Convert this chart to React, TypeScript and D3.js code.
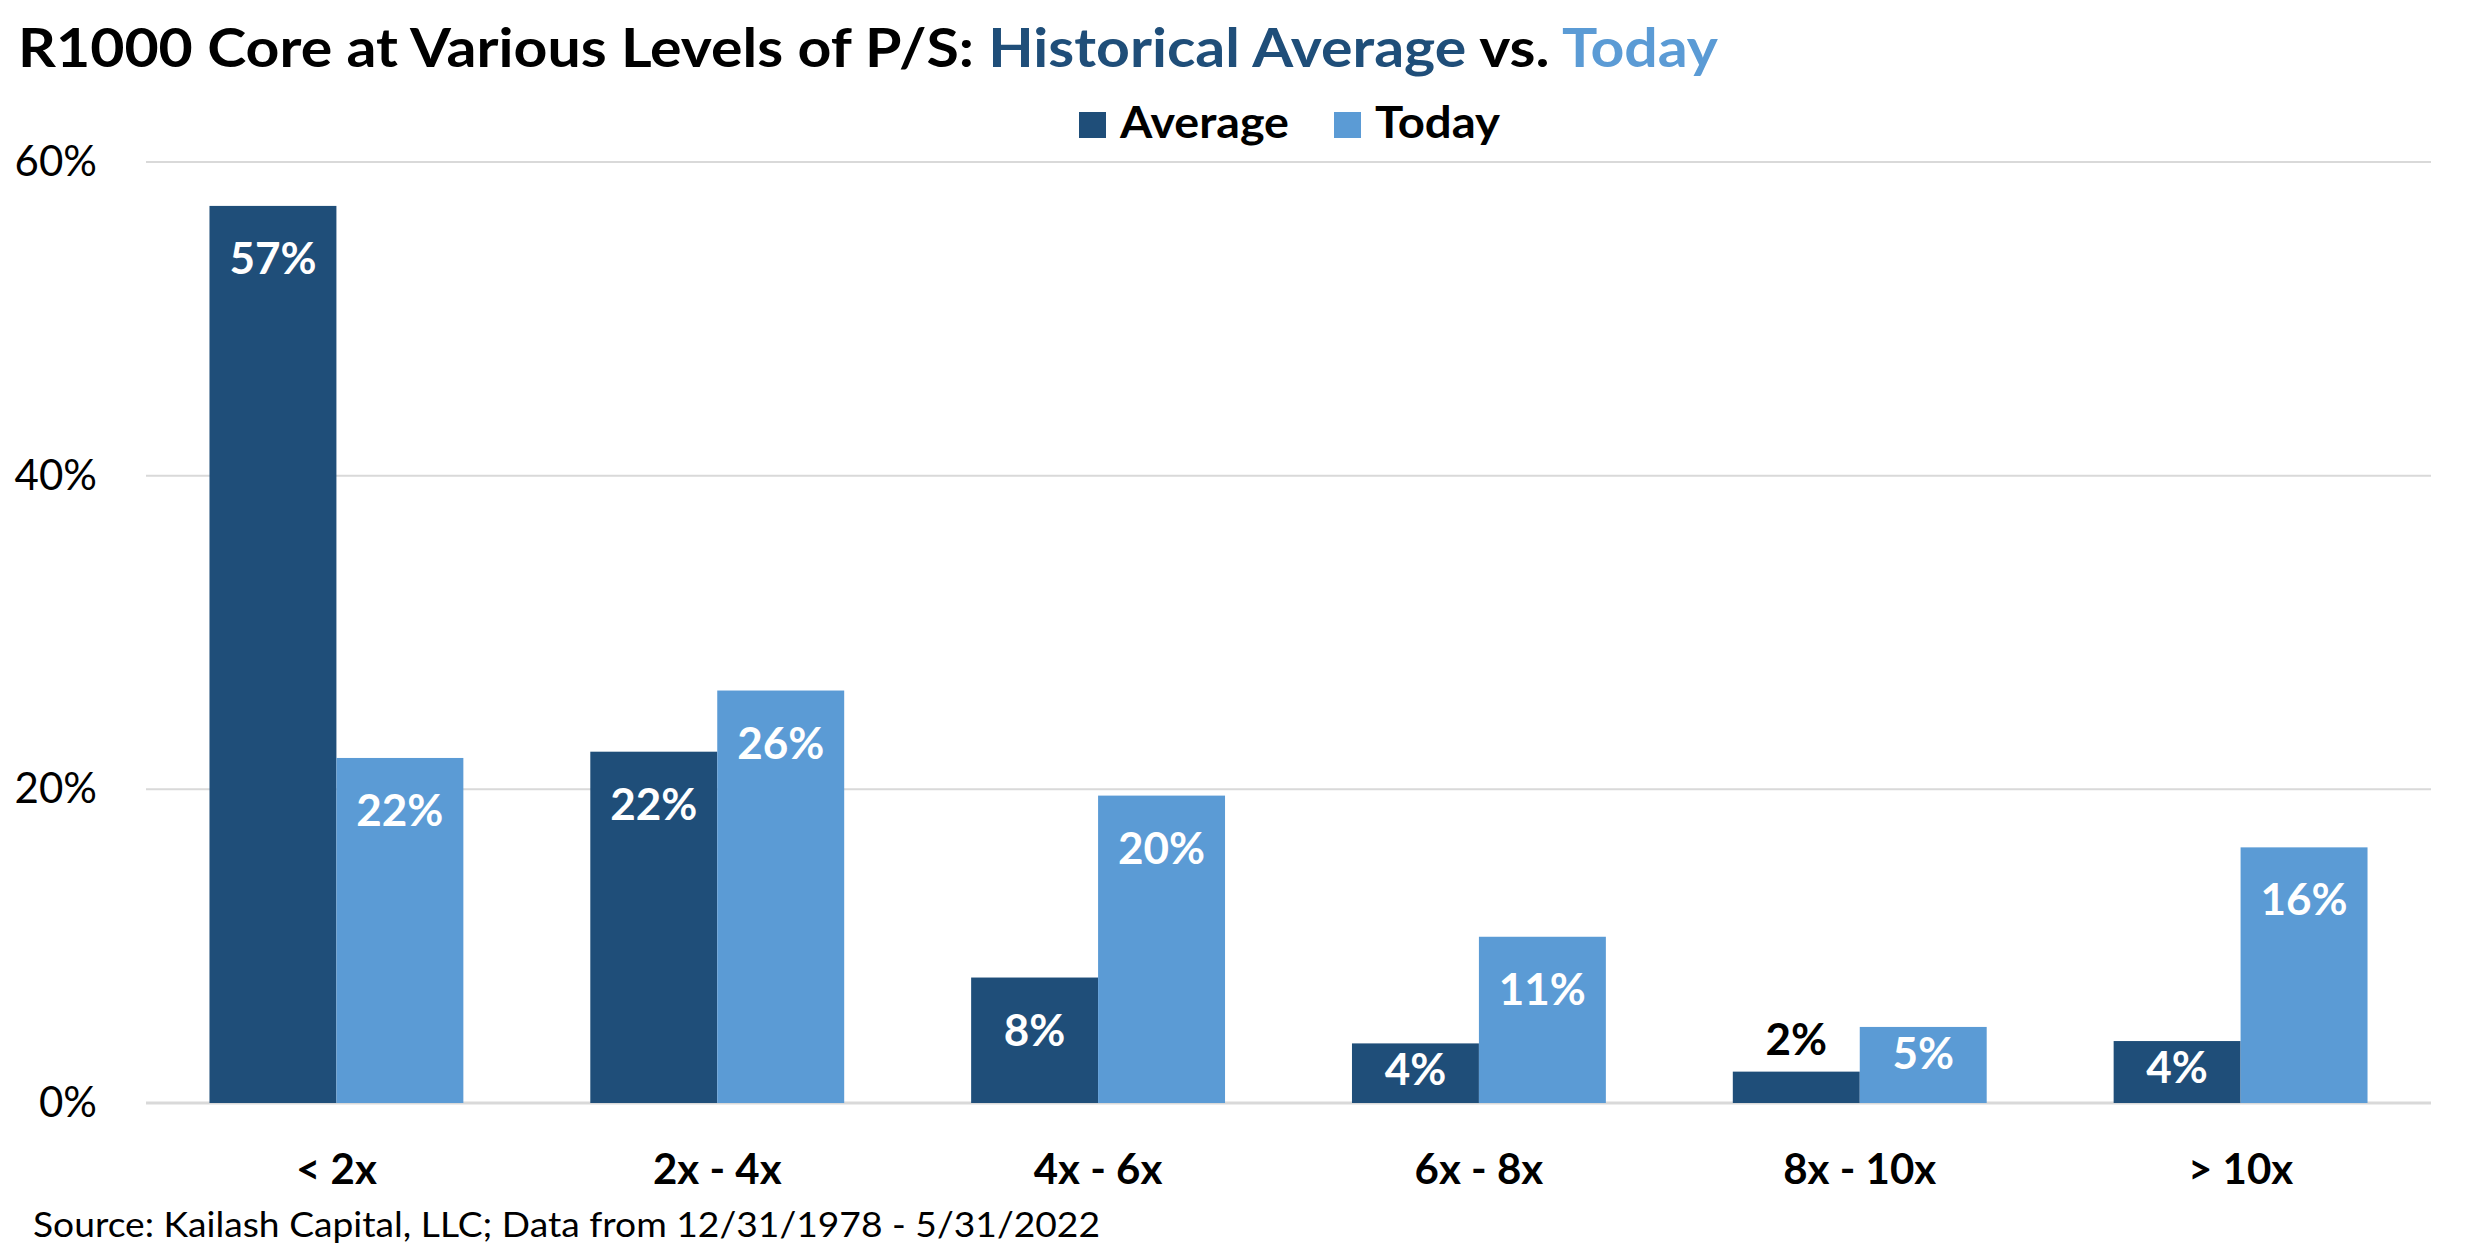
import * as d3 from 'd3';

const categories = ['< 2x', '2x - 4x', '4x - 6x', '6x - 8x', '8x - 10x', '> 10x'];
const averageValues = [57.2, 22.4, 8.0, 3.8, 2.0, 3.95];
const todayValues = [22.0, 26.3, 19.6, 10.6, 4.85, 16.3];
const averageLabels = ['57%', '22%', '8%', '4%', '2%', '4%'];
const todayLabels = ['22%', '26%', '20%', '11%', '5%', '16%'];
const yTicks = [0, 20, 40, 60];

const WIDTH = 2475;
const HEIGHT = 1254;
const PLOT = { left: 146, right: 2431, top: 162, bottom: 1103 };
const DARK = '#1F4E79';
const LIGHT = '#5B9BD5';
const GRID = '#D9D9D9';
const FONT = 'Lato, "Open Sans", sans-serif';

// where the value label goes: inside near the top, lower for short bars, above when it won't fit
function labelPos(top: number) {
  const h = PLOT.bottom - top;
  if (h < 45) return { y: top - 17, fill: '#000' };
  if (h < 110) return { y: top + 42, fill: '#fff' };
  return { y: top + 68, fill: '#fff' };
}

export default function App() {
  const x = d3
    .scaleBand<string>()
    .domain(categories)
    .range([PLOT.left, PLOT.right])
    .paddingInner(1 / 3)
    .paddingOuter(1 / 6);
  const inner = d3.scaleBand<string>().domain(['avg', 'today']).range([0, x.bandwidth()]);
  const y = d3.scaleLinear().domain([0, 60]).range([PLOT.bottom, PLOT.top]);

  const series = [
    { key: 'avg', values: averageValues, labels: averageLabels, color: DARK },
    { key: 'today', values: todayValues, labels: todayLabels, color: LIGHT },
  ];

  return (
    <div style={{ position: 'absolute', left: 0, top: 0 }}>
      <svg width={WIDTH} height={HEIGHT} viewBox={`0 0 ${WIDTH} ${HEIGHT}`} style={{ display: 'block', background: '#fff' }}>
        {/* title */}
        <text
          x={18}
          y={67}
          fontFamily={FONT}
          fontWeight={700}
          fontSize={54}
          textLength={1700}
          lengthAdjust="spacingAndGlyphs"
          fill="#000"
        >
          R1000 Core at Various Levels of P/S: <tspan fill={DARK}>Historical Average</tspan> vs.{' '}
          <tspan fill={LIGHT}>Today</tspan>
        </text>

        {/* legend */}
        <rect x={1079} y={112} width={27} height={26} fill={DARK} />
        <text x={1120} y={138} fontFamily={FONT} fontWeight={700} fontSize={43} textLength={169} lengthAdjust="spacingAndGlyphs">
          Average
        </text>
        <rect x={1334} y={112} width={27} height={26} fill={LIGHT} />
        <text x={1375} y={138} fontFamily={FONT} fontWeight={700} fontSize={43} textLength={125} lengthAdjust="spacingAndGlyphs">
          Today
        </text>

        {/* gridlines + y ticks */}
        {yTicks.map((t) => (
          <g key={t}>
            <line x1={PLOT.left} x2={PLOT.right} y1={y(t)} y2={y(t)} stroke={GRID} strokeWidth={t === 0 ? 3 : 2} />
            <text x={97} y={y(t) + 14} textAnchor="end" fontFamily={FONT} fontSize={42} fill="#000">
              {t}%
            </text>
          </g>
        ))}

        {/* bars */}
        {series.map((s) =>
          categories.map((c, i) => {
            const bx = x(c)! + inner(s.key)!;
            const top = y(s.values[i]);
            const lp = labelPos(top);
            return (
              <g key={s.key + c}>
                <rect x={bx} y={top} width={inner.bandwidth()} height={PLOT.bottom - top} fill={s.color} />
                <text
                  x={bx + inner.bandwidth() / 2}
                  y={lp.y}
                  textAnchor="middle"
                  fontFamily={FONT}
                  fontWeight={700}
                  fontSize={44}
                  fill={lp.fill}
                >
                  {s.labels[i]}
                </text>
              </g>
            );
          })
        )}

        {/* x labels */}
        {categories.map((c) => (
          <text
            key={c}
            x={x(c)! + x.bandwidth() / 2}
            y={1184}
            textAnchor="middle"
            fontFamily={FONT}
            fontWeight={700}
            fontSize={42}
            fill="#000"
          >
            {c}
          </text>
        ))}

        {/* source */}
        <text x={33} y={1237} fontFamily={FONT} fontSize={34} textLength={1067} lengthAdjust="spacingAndGlyphs" fill="#000">
          Source: Kailash Capital, LLC; Data from 12/31/1978 - 5/31/2022
        </text>
      </svg>
    </div>
  );
}
